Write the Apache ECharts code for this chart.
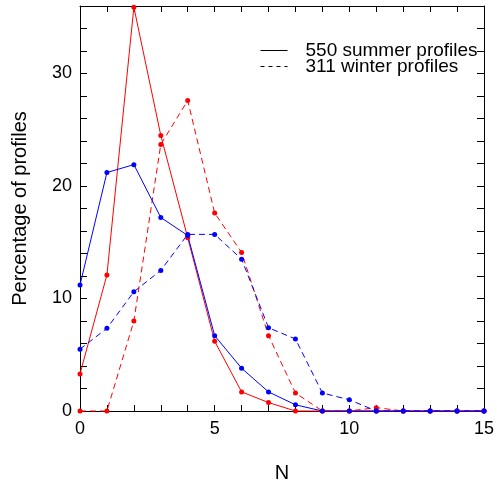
<!DOCTYPE html>
<html>
<head>
<meta charset="utf-8">
<script src="https://cdn.jsdelivr.net/npm/echarts@6/dist/echarts.min.js"></script>
<style>html,body{margin:0;padding:0;background:#fff;}#c{width:497px;height:488px;}</style>
</head>
<body>
<div id="c"></div>
<script>
var nValues = [0,1,2,3,4,5,6,7,8,9,10,11,12,13,14,15];
var summerRed  = [3.3,12.1,35.9,24.5,15.4,6.2,1.7,0.75,0,0,0,0,0,0,0,0];
var winterRed  = [0,0,8.0,23.7,27.6,17.6,14.1,6.7,1.6,0,0,0.3,0,0,0,0];
var summerBlue = [11.2,21.2,21.9,17.2,15.6,6.7,3.8,1.7,0.55,0,0,0,0,0,0,0];
var winterBlue = [5.5,7.35,10.6,12.5,15.7,15.7,13.5,7.4,6.4,1.6,1.0,0,0,0,0,0];
var legendNames = ['550 summer profiles','311 winter profiles'];
var xTicks = [0,5,10,15];
var yTicks = [0,10,20,30];

function pairs(vals){ return nValues.map(function(n,i){ return [n, vals[i]]; }); }

var font = 'Liberation Sans, Arial, Helvetica, sans-serif';
var black = '#000';

function mkSeries(name, vals, color, dashed){
  return {
    name: name, type: 'line', data: pairs(vals),
    symbol: 'circle', symbolSize: 5,
    lineStyle: {color: color, width: 1, type: dashed ? [6,4] : 'solid'},
    itemStyle: {color: color},
    emphasis: {disabled: true}, silent: true, animation: false, clip: false
  };
}

var chart = echarts.init(document.getElementById('c'), null, {renderer: 'canvas'});
var axisLineCfg = {show: true, onZero: false, lineStyle: {color: black, width: 1}};
chart.setOption({
  animation: false,
  backgroundColor: '#fff',
  grid: {left: 80, right: 10, top: 6, bottom: 75, containLabel: false},
  legend: {
    orient: 'vertical', left: 255, top: 36,
    itemWidth: 27, itemHeight: 14, itemGap: -3,
    data: legendNames.map(function(n){ return {name: n}; }),
    itemStyle: {color: 'rgba(0,0,0,0)', borderWidth: 0, opacity: 0},
    lineStyle: {width: 1, color: black},
    textStyle: {fontFamily: font, fontSize: 19, color: black, lineHeight: 14, padding: [0,0,0,13]},
    selectedMode: false
  },
  xAxis: [
    {
      type: 'value', min: 0, max: 15, interval: 1, position: 'bottom',
      axisLine: axisLineCfg, splitLine: {show: false},
      name: 'N', nameLocation: 'middle', nameGap: 52,
      nameTextStyle: {fontFamily: font, fontSize: 20, color: black},
      axisTick: {show: true, inside: true, length: 6, lineStyle: {color: black}},
      axisLabel: {margin: 9, fontFamily: font, fontSize: 18, color: black,
        formatter: function(v){ return xTicks.indexOf(v) >= 0 ? String(v) : ''; }}
    },
    {
      type: 'value', min: 0, max: 15, interval: 1, position: 'top',
      axisLine: axisLineCfg, splitLine: {show: false},
      axisTick: {show: true, inside: true, length: 6, lineStyle: {color: black}},
      axisLabel: {show: false}
    }
  ],
  yAxis: [
    {
      type: 'value', min: 0, max: 36, interval: 2, position: 'left',
      axisLine: axisLineCfg, splitLine: {show: false},
      axisTick: {show: true, inside: true, length: 7, lineStyle: {color: black}},
      name: 'Percentage of profiles', nameLocation: 'middle', nameGap: 50,
      nameTextStyle: {fontFamily: font, fontSize: 20, color: black},
      axisLabel: {margin: 8, fontFamily: font, fontSize: 18, color: black,
        formatter: function(v){ return yTicks.indexOf(v) >= 0 ? String(v) : ''; }}
    },
    {
      type: 'value', min: 0, max: 36, interval: 2, position: 'right',
      axisLine: axisLineCfg, splitLine: {show: false},
      axisTick: {show: true, inside: true, length: 7, lineStyle: {color: black}},
      axisLabel: {show: false}
    }
  ],
  series: [
    mkSeries('summerRed', summerRed, '#ff0000', false),
    mkSeries('winterRed', winterRed, '#ff0000', true),
    mkSeries('summerBlue', summerBlue, '#0000ff', false),
    mkSeries('winterBlue', winterBlue, '#0000ff', true),
    {name: legendNames[0], type: 'line', data: [], symbol: 'none',
     lineStyle: {color: black, width: 1, type: 'solid'}, itemStyle: {color: black}},
    {name: legendNames[1], type: 'line', data: [], symbol: 'none',
     lineStyle: {color: black, width: 1, type: [4,4]}, itemStyle: {color: black}}
  ]
});
</script>
</body>
</html>
